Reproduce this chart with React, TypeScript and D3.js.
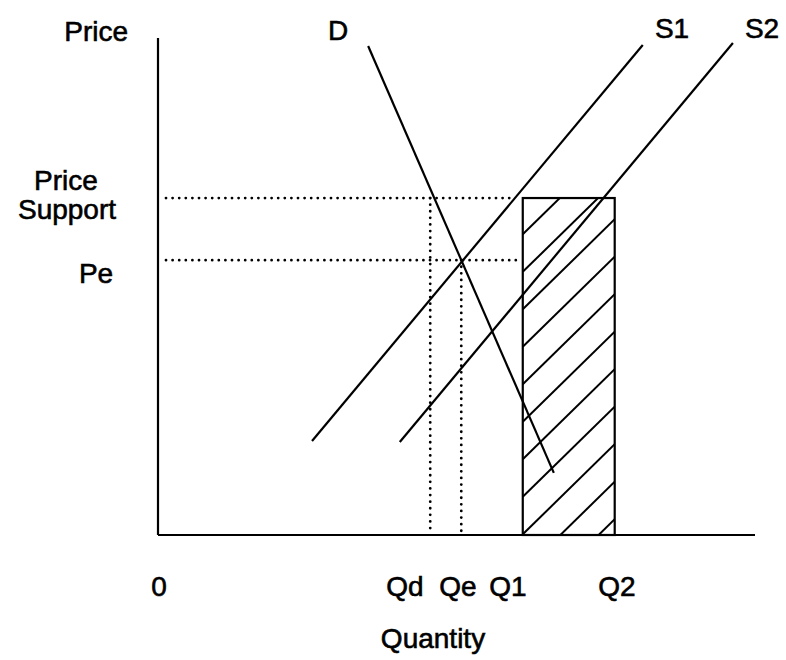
import React, { useEffect } from "react";
import * as d3 from "d3";

// ---- data (quantity 0..100, price 0..100) ----
const quantityTicks = ["0", "Qd", "Qe", "Q1", "Q2"];
const quantityValues = [0, 45.6, 50.8, 61.1, 76.5];
const priceLabels = ["Price Support", "Pe"];
const priceValues = [67.8, 55.3];
const demandLine: [number, number][] = [
  [35.2, 98.4],
  [66.3, 12.5],
];
const supply1Line: [number, number][] = [
  [25.8, 18.9],
  [81.2, 98.6],
];
const supply2Line: [number, number][] = [
  [40.5, 18.7],
  [96.3, 99.0],
];
const curveLabels = ["D", "S1", "S2"];

const W = 786;
const H = 660;
const FONT = "'Liberation Sans', Arial, Helvetica, sans-serif";

export default function App() {
  useEffect(() => {
    document.body.style.margin = "0";
  }, []);

  const x = d3.scaleLinear().domain([0, 100]).range([158, 755]);
  const y = d3.scaleLinear().domain([0, 100]).range([535, 38]);
  const line = d3
    .line<[number, number]>()
    .x((d) => x(d[0]))
    .y((d) => y(d[1]));

  const [, qd, qe, q1, q2] = quantityValues;
  const [pSupport, pe] = priceValues;

  // rectangle (surplus)
  const rx0 = x(q1);
  const rx1 = x(q2);
  const ry0 = y(pSupport);
  const ry1 = y(0);

  // hatching inside rectangle
  const spacing = 37.5;
  const slope = 0.98;
  const hatch: { x1: number; y1: number; x2: number; y2: number }[] = [];
  for (let k = 0; k < 14; k++) {
    const c = ry0 + 36.3 + k * spacing;
    hatch.push({ x1: rx0, y1: c, x2: rx1, y2: c - slope * (rx1 - rx0) });
  }

  const dotStyle = {
    stroke: "#000",
    strokeWidth: 2.8,
    strokeLinecap: "round" as const,
    strokeDasharray: "0 6.6",
    fill: "none",
  };
  const solid = { stroke: "#000", strokeWidth: 2.2, fill: "none" };
  const textStyle = {
    fontFamily: FONT,
    fontSize: 28,
    fill: "#000",
    stroke: "#000",
    strokeWidth: 0.6,
  };

  const tickLabelX = [159, 405, 458, 508, 617];
  const [supWord1, supWord2] = priceLabels[0].split(" ");

  return (
    <svg width={W} height={H} style={{ display: "block", background: "#fff" }}>
      <defs>
        <clipPath id="rectClip">
          <rect x={rx0} y={ry0} width={rx1 - rx0} height={ry1 - ry0} />
        </clipPath>
      </defs>

      {/* axes */}
      <line x1={x(0)} y1={y(100)} x2={x(0)} y2={y(0)} {...solid} />
      <line x1={x(0)} y1={y(0)} x2={x(100)} y2={y(0)} {...solid} />

      {/* dotted guides */}
      <line x1={x(0) + 8} y1={y(pSupport)} x2={rx0 - 10} y2={y(pSupport)} {...dotStyle} />
      <line x1={x(0) + 8} y1={y(pe)} x2={rx0 - 4} y2={y(pe)} {...dotStyle} />
      <line x1={x(qd)} y1={y(pSupport)} x2={x(qd)} y2={y(0) - 4} {...dotStyle} />
      <line x1={x(qe)} y1={y(pe)} x2={x(qe)} y2={y(0) - 4} {...dotStyle} />

      {/* hatched rectangle */}
      <g clipPath="url(#rectClip)">
        {hatch.map((h, i) => (
          <line key={i} x1={h.x1} y1={h.y1} x2={h.x2} y2={h.y2} stroke="#000" strokeWidth={2} />
        ))}
      </g>
      <rect x={rx0} y={ry0} width={rx1 - rx0} height={ry1 - ry0} {...solid} />

      {/* curves */}
      <path d={line(demandLine) || ""} {...solid} />
      <path d={line(supply1Line) || ""} {...solid} />
      <path d={line(supply2Line) || ""} {...solid} />

      {/* curve labels */}
      <text x={338} y={40} textAnchor="middle" style={textStyle}>{curveLabels[0]}</text>
      <text x={672} y={38} textAnchor="middle" style={textStyle}>{curveLabels[1]}</text>
      <text x={762} y={38} textAnchor="middle" style={textStyle}>{curveLabels[2]}</text>

      {/* y labels */}
      <text x={128} y={41} textAnchor="end" style={textStyle}>Price</text>
      <text x={66} y={190} textAnchor="middle" style={textStyle}>{supWord1}</text>
      <text x={67} y={219} textAnchor="middle" style={textStyle}>{supWord2}</text>
      <text x={96} y={283} textAnchor="middle" style={textStyle}>{priceLabels[1]}</text>

      {/* x labels */}
      {quantityTicks.map((t, i) => (
        <text key={t} x={tickLabelX[i]} y={596} textAnchor="middle" style={textStyle}>{t}</text>
      ))}
      <text x={433} y={648} textAnchor="middle" style={textStyle}>Quantity</text>
    </svg>
  );
}
